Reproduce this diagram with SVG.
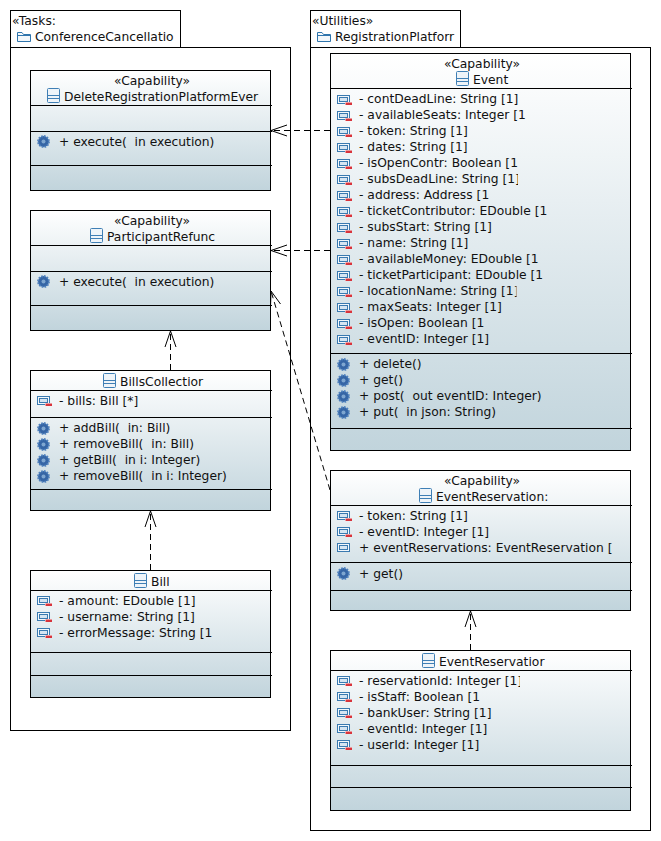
<svg xmlns="http://www.w3.org/2000/svg" width="661" height="841" viewBox="0 0 661 841">
<style>
text{font-family:"DejaVu Sans",sans-serif;font-size:12.3px;fill:#111;white-space:pre}
.m{text-anchor:middle}
.box{stroke:#000;stroke-width:1;fill:url(#g)}
.pk{stroke:#000;stroke-width:1;fill:#fff}
.sep{stroke:#000;stroke-width:1}
.dash{stroke:#000;stroke-width:1;fill:none;stroke-dasharray:6 4}
.arr{stroke:#000;stroke-width:1;fill:none}
</style>
<defs>
<linearGradient id="g" x1="0" y1="0" x2="0" y2="1"><stop offset="0" stop-color="#fff"/><stop offset="1" stop-color="#c1d4dc"/></linearGradient>
<g id="cls"><rect x="0.5" y="0.5" width="12" height="14" rx="1" fill="#eef4f9" stroke="#3f7fb5"/><path d="M1 7.5H12M1 10.500H12" stroke="#3f7fb5"/></g>
<g id="fld"><rect x="0.5" y="0.5" width="12" height="8" fill="#f2f7fb" stroke="#3a7ab0"/><rect x="2.500" y="2.500" width="8" height="4" fill="#d5e5f2" stroke="#3a7ab0"/><rect x="8" y="7" width="7" height="3" fill="#fff"/><rect x="8.500" y="7.500" width="6.500" height="2.500" fill="#d8343c"/></g>
<g id="fldp"><rect x="0.5" y="0.5" width="12" height="8" fill="#f2f7fb" stroke="#3a7ab0"/><rect x="2.500" y="2.500" width="8" height="4" fill="#d5e5f2" stroke="#3a7ab0"/></g>
<g id="op"><circle cx="6.5" cy="6.5" r="5.4" fill="#3565a5" stroke="#4f81bd" stroke-dasharray="1.700 1.100" stroke-width="2"/><circle cx="6.5" cy="6.5" r="2" fill="#7ea6d0"/></g>
<g id="pkg"><path d="M0.5 2.5H5L6.5 4.5H13.5V11.5H0.5Z" fill="#f2f7fb" stroke="#2f75ad"/><path d="M0.5 5.5H13.5" stroke="#2f75ad"/></g>
<clipPath id="c1"><rect x="340" y="170" width="178" height="18"/></clipPath>
<clipPath id="c2"><rect x="340" y="282" width="176.500" height="18"/></clipPath>
<clipPath id="c3"><rect x="340" y="672" width="180" height="18"/></clipPath>
</defs>

<g id="pkg-tasks">
<rect class="pk" x="10.5" y="10.5" width="170" height="37"/>
<rect class="pk" x="10.5" y="47.5" width="280" height="683"/>
<text x="12" y="25">«Tasks:</text>
<use href="#pkg" x="17" y="30"/>
<text x="35" y="41">ConferenceCancellatio</text>
</g>

<g id="pkg-utilities">
<rect class="pk" x="310.5" y="10.5" width="150" height="37"/>
<rect class="pk" x="310.5" y="47.5" width="340" height="783"/>
<text x="312" y="25">«Utilities»</text>
<use href="#pkg" x="317" y="30"/>
<text x="335" y="41">RegistrationPlatforr</text>
</g>

<g id="DeleteRegistrationPlatformEvent">
<rect class="box" x="30.5" y="70.5" width="240" height="120"/>
<path class="sep" d="M30 105.500H272M30 131.500H272M30 165.500H272"/>
<text class="m" x="152" y="85">«Capability»</text>
<use href="#cls" x="47" y="88"/>
<text x="64" y="101">DeleteRegistrationPlatformEver</text>
<use href="#op" x="37" y="135"/>
<text x="59" y="146">+ execute(  in execution)</text>
</g>

<g id="ParticipantRefund">
<rect class="box" x="30.5" y="210.5" width="240" height="120"/>
<path class="sep" d="M30 245.500H272M30 271.500H272M30 305.500H272"/>
<text class="m" x="152" y="225">«Capability»</text>
<use href="#cls" x="90" y="228"/>
<text x="107" y="241">ParticipantRefunc</text>
<use href="#op" x="37" y="275"/>
<text x="59" y="286">+ execute(  in execution)</text>
</g>

<g id="BillsCollection">
<rect class="box" x="30.5" y="370.5" width="240" height="140"/>
<path class="sep" d="M30 390.500H272M30 417.500H272M30 489.500H272"/>
<use href="#cls" x="103" y="373"/>
<text x="120" y="386">BillsCollectior</text>
<use href="#fld" x="37" y="396"/>
<text x="59" y="405">- bills: Bill [*]</text>
<use href="#op" x="37" y="422"/>
<text x="59" y="432">+ addBill(  in: Bill)</text>
<use href="#op" x="37" y="438"/>
<text x="59" y="448">+ removeBill(  in: Bill)</text>
<use href="#op" x="37" y="454"/>
<text x="59" y="464">+ getBill(  in i: Integer)</text>
<use href="#op" x="37" y="470"/>
<text x="59" y="480">+ removeBill(  in i: Integer)</text>
</g>

<g id="Bill">
<rect class="box" x="30.5" y="570.5" width="240" height="127"/>
<path class="sep" d="M30 590.500H272M30 652.500H272M30 675.500H272"/>
<use href="#cls" x="134" y="573"/>
<text x="151" y="586">Bill</text>
<use href="#fld" x="37" y="596"/>
<text x="59" y="605">- amount: EDouble [1]</text>
<use href="#fld" x="37" y="612"/>
<text x="59" y="621">- username: String [1]</text>
<use href="#fld" x="37" y="628"/>
<text x="59" y="637">- errorMessage: String [1</text>
</g>

<g id="Event">
<rect class="box" x="330.5" y="53.5" width="300" height="397"/>
<path class="sep" d="M330 88.500H632M330 353.500H632M330 428.500H632"/>
<text class="m" x="482" y="68">«Capability»</text>
<use href="#cls" x="456" y="71"/>
<text x="473" y="84">Event</text>
<use href="#fld" x="337" y="95"/><text x="359" y="103">- contDeadLine: String [1]</text>
<use href="#fld" x="337" y="111"/><text x="359" y="119">- availableSeats: Integer [1</text>
<use href="#fld" x="337" y="127"/><text x="359" y="135">- token: String [1]</text>
<use href="#fld" x="337" y="143"/><text x="359" y="151">- dates: String [1]</text>
<use href="#fld" x="337" y="159"/><text x="359" y="167">- isOpenContr: Boolean [1</text>
<use href="#fld" x="337" y="175"/><text x="359" y="183" clip-path="url(#c1)">- subsDeadLine: String [1]</text>
<use href="#fld" x="337" y="191"/><text x="359" y="199">- address: Address [1</text>
<use href="#fld" x="337" y="207"/><text x="359" y="215">- ticketContributor: EDouble [1</text>
<use href="#fld" x="337" y="223"/><text x="359" y="231">- subsStart: String [1]</text>
<use href="#fld" x="337" y="239"/><text x="359" y="247">- name: String [1]</text>
<use href="#fld" x="337" y="255"/><text x="359" y="263">- availableMoney: EDouble [1</text>
<use href="#fld" x="337" y="271"/><text x="359" y="279">- ticketParticipant: EDouble [1</text>
<use href="#fld" x="337" y="287"/><text x="359" y="295" clip-path="url(#c2)">- locationName: String [1]</text>
<use href="#fld" x="337" y="303"/><text x="359" y="311">- maxSeats: Integer [1]</text>
<use href="#fld" x="337" y="319"/><text x="359" y="327">- isOpen: Boolean [1</text>
<use href="#fld" x="337" y="335"/><text x="359" y="343">- eventID: Integer [1]</text>
<use href="#op" x="337" y="358"/><text x="359" y="368">+ delete()</text>
<use href="#op" x="337" y="374"/><text x="359" y="384">+ get()</text>
<use href="#op" x="337" y="390"/><text x="359" y="400">+ post(  out eventID: Integer)</text>
<use href="#op" x="337" y="406"/><text x="359" y="416">+ put(  in json: String)</text>
</g>

<g id="EventReservations">
<rect class="box" x="330.5" y="470.5" width="300" height="140"/>
<path class="sep" d="M330 505.500H632M330 562.500H632M330 590.500H632"/>
<text class="m" x="482" y="485">«Capability»</text>
<use href="#cls" x="419" y="488"/>
<text x="436" y="501">EventReservation:</text>
<use href="#fld" x="337" y="511"/><text x="359" y="520">- token: String [1]</text>
<use href="#fld" x="337" y="527"/><text x="359" y="536">- eventID: Integer [1]</text>
<use href="#fldp" x="337" y="543"/><text x="359" y="552">+ eventReservations: EventReservation [</text>
<use href="#op" x="337" y="567"/><text x="359" y="578">+ get()</text>
</g>

<g id="EventReservation">
<rect class="box" x="330.5" y="650.5" width="300" height="160"/>
<path class="sep" d="M330 670.500H632M330 765.500H632M330 787.500H632"/>
<use href="#cls" x="422" y="653"/>
<text x="439" y="666">EventReservatior</text>
<use href="#fld" x="337" y="676"/><text x="359" y="685" clip-path="url(#c3)">- reservationId: Integer [1]</text>
<use href="#fld" x="337" y="692"/><text x="359" y="701">- isStaff: Boolean [1</text>
<use href="#fld" x="337" y="708"/><text x="359" y="717">- bankUser: String [1]</text>
<use href="#fld" x="337" y="724"/><text x="359" y="733">- eventId: Integer [1]</text>
<use href="#fld" x="337" y="740"/><text x="359" y="749">- userId: Integer [1]</text>
</g>

<g id="connectors">
<path class="dash" d="M330 130.500H271"/>
<path class="arr" d="M287 125L271 130.500L287 136"/>
<path class="dash" d="M330 250.500H271"/>
<path class="arr" d="M287 245L271 250.500L287 256"/>
<path class="dash" d="M330 490L271 291"/>
<path class="arr" d="M270.500 307L271 291L280.500 304"/>
<path class="dash" d="M170.500 370V331"/>
<path class="arr" d="M165 347L170.500 331L176 347"/>
<path class="dash" d="M150.500 570V511"/>
<path class="arr" d="M145 527L150.500 511L156 527"/>
<path class="dash" d="M470.500 650V611"/>
<path class="arr" d="M465 627L470.500 611L476 627"/>
</g>
</svg>
